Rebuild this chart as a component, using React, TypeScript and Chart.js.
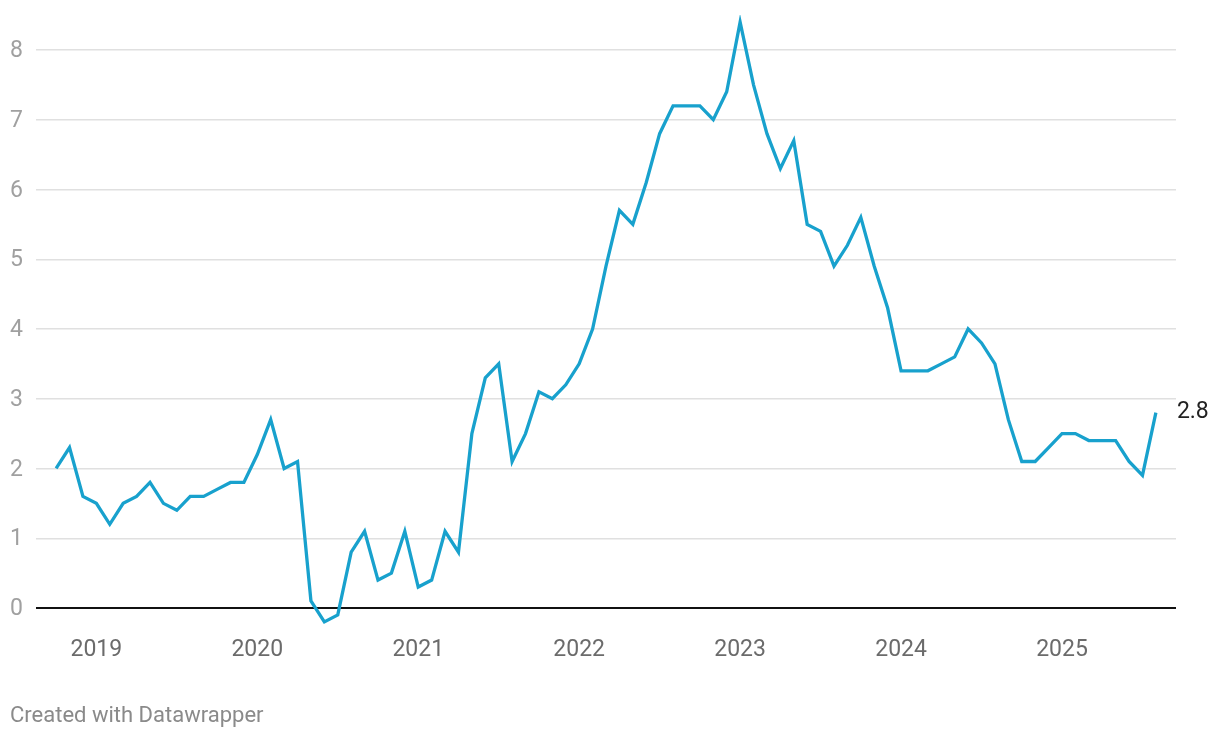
import React, { useEffect, useRef } from "react";
import { Chart, registerables } from "chart.js";

Chart.register(...registerables);

const months = [
  "2018-10", "2018-11", "2018-12",
  "2019-01", "2019-02", "2019-03", "2019-04", "2019-05", "2019-06", "2019-07", "2019-08", "2019-09", "2019-10", "2019-11", "2019-12",
  "2020-01", "2020-02", "2020-03", "2020-04", "2020-05", "2020-06", "2020-07", "2020-08", "2020-09", "2020-10", "2020-11", "2020-12",
  "2021-01", "2021-02", "2021-03", "2021-04", "2021-05", "2021-06", "2021-07", "2021-08", "2021-09", "2021-10", "2021-11", "2021-12",
  "2022-01", "2022-02", "2022-03", "2022-04", "2022-05", "2022-06", "2022-07", "2022-08", "2022-09", "2022-10", "2022-11", "2022-12",
  "2023-01", "2023-02", "2023-03", "2023-04", "2023-05", "2023-06", "2023-07", "2023-08", "2023-09", "2023-10", "2023-11", "2023-12",
  "2024-01", "2024-02", "2024-03", "2024-04", "2024-05", "2024-06", "2024-07", "2024-08", "2024-09", "2024-10", "2024-11", "2024-12",
  "2025-01", "2025-02", "2025-03", "2025-04", "2025-05", "2025-06", "2025-07", "2025-08",
];

const values = [
  2.0, 2.3, 1.6,
  1.5, 1.2, 1.5, 1.6, 1.8, 1.5, 1.4, 1.6, 1.6, 1.7, 1.8, 1.8,
  2.2, 2.7, 2.0, 2.1, 0.1, -0.2, -0.1, 0.8, 1.1, 0.4, 0.5, 1.1,
  0.3, 0.4, 1.1, 0.8, 2.5, 3.3, 3.5, 2.1, 2.5, 3.1, 3.0, 3.2,
  3.5, 4.0, 4.9, 5.7, 5.5, 6.1, 6.8, 7.2, 7.2, 7.2, 7.0, 7.4,
  8.4, 7.5, 6.8, 6.3, 6.7, 5.5, 5.4, 4.9, 5.2, 5.6, 4.9, 4.3,
  3.4, 3.4, 3.4, 3.5, 3.6, 4.0, 3.8, 3.5, 2.7, 2.1, 2.1, 2.3,
  2.5, 2.5, 2.4, 2.4, 2.4, 2.1, 1.9, 2.8,
];

const yearLabels = ["2019", "2020", "2021", "2022", "2023", "2024", "2025"];
const yearMonths = ["2019-01", "2020-01", "2021-01", "2022-01", "2023-01", "2024-01", "2025-01"];
const yTicks = [0, 1, 2, 3, 4, 5, 6, 7, 8];

const FONT = "Roboto, 'Noto Sans', sans-serif";
const LINE_COLOR = "#18a1cd";

const endLabelPlugin = {
  id: "endLabel",
  afterDatasetsDraw(chart: any) {
    const meta = chart.getDatasetMeta(0);
    const pts = meta.data;
    if (!pts.length) return;
    const last = pts[pts.length - 1];
    const ctx = chart.ctx;
    ctx.save();
    ctx.font = `23px ${FONT}`;
    ctx.fillStyle = "#222222";
    ctx.textAlign = "left";
    ctx.textBaseline = "middle";
    ctx.fillText(values[values.length - 1].toFixed(1), last.x + 21, last.y);
    ctx.restore();
  },
};

export default function App() {
  const canvasRef = useRef<HTMLCanvasElement | null>(null);

  useEffect(() => {
    const canvas = canvasRef.current;
    if (!canvas) return;
    const data = values.map((v, i) => ({ x: i, y: v }));
    const tickIdx = yearMonths.map((m) => months.indexOf(m));

    const chart = new Chart(canvas, {
      type: "line",
      data: {
        datasets: [
          {
            data,
            borderColor: LINE_COLOR,
            borderWidth: 3.3,
            pointRadius: 0,
            pointHoverRadius: 0,
            tension: 0,
            fill: false,
          },
        ],
      },
      options: {
        animation: false,
        responsive: false,
        events: [],
        layout: { padding: { left: 10, right: 44, top: 15.1, bottom: 69.1 } },
        plugins: {
          legend: { display: false },
          tooltip: { enabled: false },
        },
        scales: {
          x: {
            type: "linear",
            min: -1.5,
            max: 83.5,
            grid: { display: false },
            border: { display: false },
            afterBuildTicks: (scale: any) => {
              scale.ticks = tickIdx.map((v) => ({ value: v }));
            },
            afterFit: (scale: any) => {
              scale.height = 40;
            },
            ticks: {
              autoSkip: false,
              maxRotation: 0,
              padding: 0,
              color: "#6b6b6b",
              font: { family: FONT, size: 23 },
              callback: (value: any) => {
                const k = tickIdx.indexOf(Number(value));
                return k >= 0 ? yearLabels[k] : "";
              },
            },
          },
          y: {
            type: "linear",
            min: -0.3,
            max: 8.5,
            border: { display: false },
            grid: {
              drawTicks: false,
              color: (c: any) => (c.tick && c.tick.value === 0 ? "#111111" : "#e0e0e0"),
              lineWidth: (c: any) => (c.tick && c.tick.value === 0 ? 2 : 1.4),
            },
            afterBuildTicks: (scale: any) => {
              scale.ticks = yTicks.map((v) => ({ value: v }));
            },
            afterFit: (scale: any) => {
              scale.width = 26;
            },
            ticks: {
              crossAlign: "far",
              padding: 0,
              labelOffset: 1.5,
              color: "#a0a0a0",
              font: { family: FONT, size: 23 },
              callback: (value: any) => String(value),
            },
          },
        },
      },
      plugins: [endLabelPlugin],
    });

    return () => {
      chart.destroy();
    };
  }, []);

  return (
    <div style={{ position: "fixed", left: 0, top: 0, width: 1220, height: 738, background: "#ffffff" }}>
      <canvas ref={canvasRef} width={1220} height={738} style={{ display: "block" }} />
      <div
        style={{
          position: "absolute",
          left: 10,
          top: 702,
          fontFamily: FONT,
          fontSize: 22,
          lineHeight: "26px",
          color: "#8a8a8a",
          whiteSpace: "nowrap",
        }}
      >
        Created with Datawrapper
      </div>
    </div>
  );
}
